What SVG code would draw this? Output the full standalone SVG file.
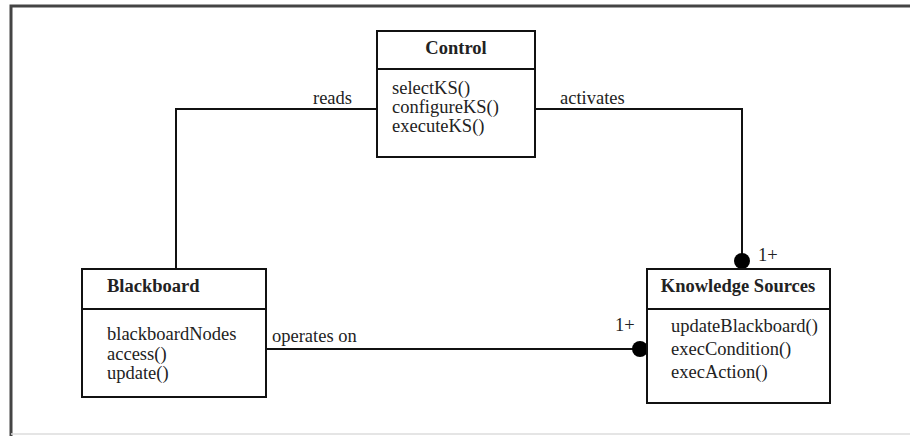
<svg xmlns="http://www.w3.org/2000/svg" width="910" height="436" viewBox="0 0 910 436">
<style>
.box{fill:#fff;stroke:#111;stroke-width:2}
.div{stroke:#111;stroke-width:2}
.con{fill:none;stroke:#111;stroke-width:2}
text{font-family:"Liberation Serif","Times New Roman",serif;font-size:18.5px;fill:#222}
.h{font-weight:bold}
</style>
<rect width="910" height="436" fill="#fff"/>
<g id="frame">
<path d="M11 436 V6 H910" fill="none" stroke="#444" stroke-width="3"/>
<line x1="11" y1="434" x2="910" y2="434" stroke="#ddd" stroke-width="1.5"/>
</g>
<g id="connectors">
<path class="con" d="M377 109 H176 V269"/>
<path class="con" d="M535 109 H742 V262"/>
<path class="con" d="M266 349 H640"/>
<circle cx="742" cy="261" r="8" fill="#000"/>
<circle cx="640" cy="349" r="8" fill="#000"/>
<text x="313" y="104">reads</text>
<text x="560" y="104">activates</text>
<text x="272" y="342">operates on</text>
<text x="615" y="331">1+</text>
<text x="758" y="261">1+</text>
</g>
<g id="control">
<rect class="box" x="377" y="31" width="158" height="126"/>
<line class="div" x1="377" y1="69" x2="535" y2="69"/>
<text class="h" x="456" y="54" text-anchor="middle">Control</text>
<text x="392" y="94">selectKS()</text>
<text x="392" y="113">configureKS()</text>
<text x="392" y="132">executeKS()</text>
</g>
<g id="blackboard">
<rect class="box" x="82" y="269" width="184" height="128"/>
<line class="div" x1="82" y1="309" x2="266" y2="309"/>
<text class="h" x="107" y="292">Blackboard</text>
<text x="107" y="340">blackboardNodes</text>
<text x="107" y="360">access()</text>
<text x="107" y="379">update()</text>
</g>
<g id="knowledge-sources">
<rect class="box" x="647" y="269" width="183" height="134"/>
<line class="div" x1="647" y1="309" x2="830" y2="309"/>
<text class="h" x="738" y="292" text-anchor="middle">Knowledge Sources</text>
<text x="671" y="332">updateBlackboard()</text>
<text x="671" y="355">execCondition()</text>
<text x="671" y="378">execAction()</text>
</g>
</svg>
